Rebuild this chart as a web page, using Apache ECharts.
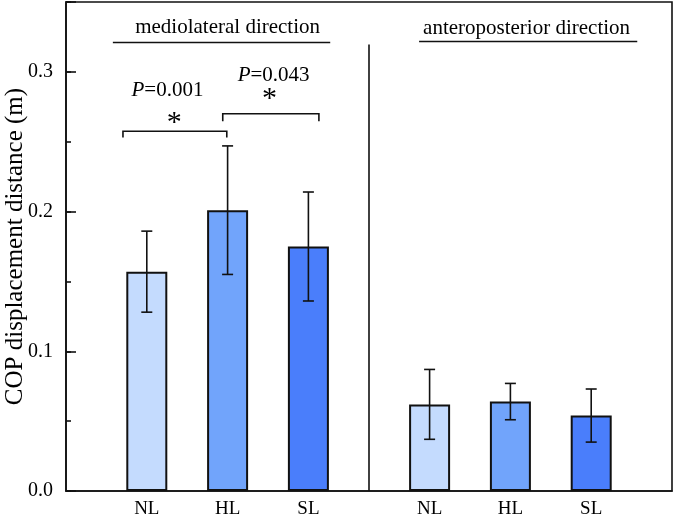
<!DOCTYPE html>
<html lang="en">
<head>
<meta charset="UTF-8">
<title>COP displacement distance</title>
<style>
  html, body { margin: 0; padding: 0; background: #fff; }
  #chart { width: 675px; height: 518px; }
</style>
</head>
<body>
<div id="chart"></div>
<script src="https://cdn.jsdelivr.net/npm/echarts@6.0.0/dist/echarts.min.js"></script>
<script>
var chart = echarts.init(document.getElementById('chart'));

// data
var positions = [1, 2, 3, 4.5, 5.5, 6.5];
var labels = ['NL', 'HL', 'SL', 'NL', 'HL', 'SL'];
var means = [0.157, 0.201, 0.175, 0.062, 0.064, 0.054];
var errs = [0.029, 0.046, 0.039, 0.025, 0.013, 0.019];
var yTicks = [0, 0.1, 0.2, 0.3];

// annotations (data coordinates)
var headers = [
  { text: 'mediolateral direction', x: 2.0, y: 0.3317, from: 0.58, to: 3.27, lineY: 0.321 },
  { text: 'anteroposterior direction', x: 5.70, y: 0.331, from: 4.37, to: 7.07, lineY: 0.3217 }
];
var pvals = [
  { text: '0.001', x: 1.256, y: 0.2865, starX: 1.34, starY: 0.2635 },
  { text: '0.043', x: 2.57, y: 0.2974, starX: 2.52, starY: 0.2805 }
];
var brackets = [[0.705, 1.99, 0.2575, 0.253], [1.94, 3.13, 0.270, 0.2647]];
var divider = { x: 3.75, top: 0.3195 };

var colors = ['#c4dbfe', '#71a4fb', '#4a7efb'];
var FONT = '"Liberation Serif", "Times New Roman", serif';
var INK = '#111';

function line(a, b) {
  return { type: 'line', shape: { x1: a[0], y1: a[1], x2: b[0], y2: b[1] },
           style: { stroke: INK, lineWidth: 1.6 } };
}

var option = {
  backgroundColor: '#fff',
  animation: false,
  grid: { left: 66, right: 3, top: 2, bottom: 27, outerBoundsMode: 'none',
          show: true, borderColor: INK, borderWidth: 1.6 },
  xAxis: {
    type: 'value', min: 0, max: 7.5, interval: 0.5,
    axisLine: { lineStyle: { color: INK, width: 1.6 } },
    axisTick: { show: false },
    splitLine: { show: false },
    axisLabel: {
      margin: 9, color: '#000', fontSize: 19, fontFamily: FONT,
      formatter: function (v) {
        for (var i = 0; i < positions.length; i++) {
          if (Math.abs(positions[i] - v) < 1e-6) return labels[i];
        }
        return '';
      }
    }
  },
  yAxis: [{
    type: 'value', min: 0, max: 0.35, interval: 0.1, position: 'left',
    name: 'COP displacement distance (m)', nameLocation: 'middle', nameGap: 38,
    nameMoveOverlap: false,
    nameTextStyle: { color: '#000', fontSize: 25, fontFamily: FONT },
    axisLine: { show: true, lineStyle: { color: INK, width: 1.6 } },
    axisTick: { show: true, inside: true, length: 10, lineStyle: { color: INK, width: 1.6 } },
    splitLine: { show: false },
    axisLabel: {
      margin: 13, color: '#000', fontSize: 20, fontFamily: FONT,
      formatter: function (v) {
        for (var i = 0; i < yTicks.length; i++) {
          if (Math.abs(yTicks[i] - v) < 1e-9) return yTicks[i].toFixed(1);
        }
        return '';
      }
    }
  }, {
    type: 'value', min: 0, max: 0.35, interval: 0.05, position: 'left',
    axisLine: { show: false },
    axisTick: { show: true, inside: true, length: 5, lineStyle: { color: INK, width: 1.6 } },
    axisLabel: { show: false },
    splitLine: { show: false }
  }],
  series: [{
    type: 'bar',
    barWidth: 41,
    data: positions.map(function (p, i) {
      return { value: [p, means[i]], itemStyle: { color: colors[i % 3] } };
    }),
    itemStyle: { borderColor: INK, borderWidth: 2 }
  }, {
    type: 'custom',
    z: 10,
    clip: false,
    encode: { x: 0, y: [1, 2] },
    data: positions.map(function (p, i) { return [p, means[i] - errs[i], means[i] + errs[i]]; }),
    renderItem: function (params, api) {
      var lo = api.coord([api.value(0), api.value(1)]);
      var hi = api.coord([api.value(0), api.value(2)]);
      var c = 5.5;
      return { type: 'group', children: [
        line(lo, hi),
        line([lo[0] - c, lo[1]], [lo[0] + c, lo[1]]),
        line([hi[0] - c, hi[1]], [hi[0] + c, hi[1]])
      ] };
    }
  }, {
    type: 'custom',
    z: 20,
    clip: false,
    silent: true,
    encode: { x: 0, y: 1 },
    data: [[0, 0]],
    renderItem: function (params, api) {
      var kids = [];
      kids.push(line(api.coord([divider.x, 0]), api.coord([divider.x, divider.top])));
      headers.forEach(function (h) {
        var p = api.coord([h.x, h.y]);
        kids.push({ type: 'text', x: p[0], y: p[1], style: {
          text: h.text, fill: '#000', font: '21px ' + FONT, align: 'center', verticalAlign: 'middle' } });
        kids.push(line(api.coord([h.from, h.lineY]), api.coord([h.to, h.lineY])));
      });
      pvals.forEach(function (t) {
        var p = api.coord([t.x, t.y]);
        kids.push({ type: 'text', x: p[0], y: p[1], style: {
          text: '{i|P}=' + t.text, fill: '#000', fontSize: 21, fontFamily: FONT,
          align: 'center', verticalAlign: 'middle',
          rich: { i: { fontStyle: 'italic', fontSize: 21, fontFamily: FONT, fill: '#000' } } } });
        var s = api.coord([t.starX, t.starY]);
        kids.push({ type: 'text', x: s[0], y: s[1], style: {
          text: '*', fill: '#000', font: '30px ' + FONT, align: 'center', verticalAlign: 'middle' } });
      });
      brackets.forEach(function (b) {
        var a = api.coord([b[0], b[2]]), c = api.coord([b[1], b[2]]);
        var ad = api.coord([b[0], b[3]]), cd = api.coord([b[1], b[3]]);
        kids.push({ type: 'polyline', shape: { points: [ad, a, c, cd] },
                    style: { stroke: INK, lineWidth: 1.6, fill: null } });
      });
      return { type: 'group', children: kids };
    }
  }]
};

chart.setOption(option);
</script>
</body>
</html>
